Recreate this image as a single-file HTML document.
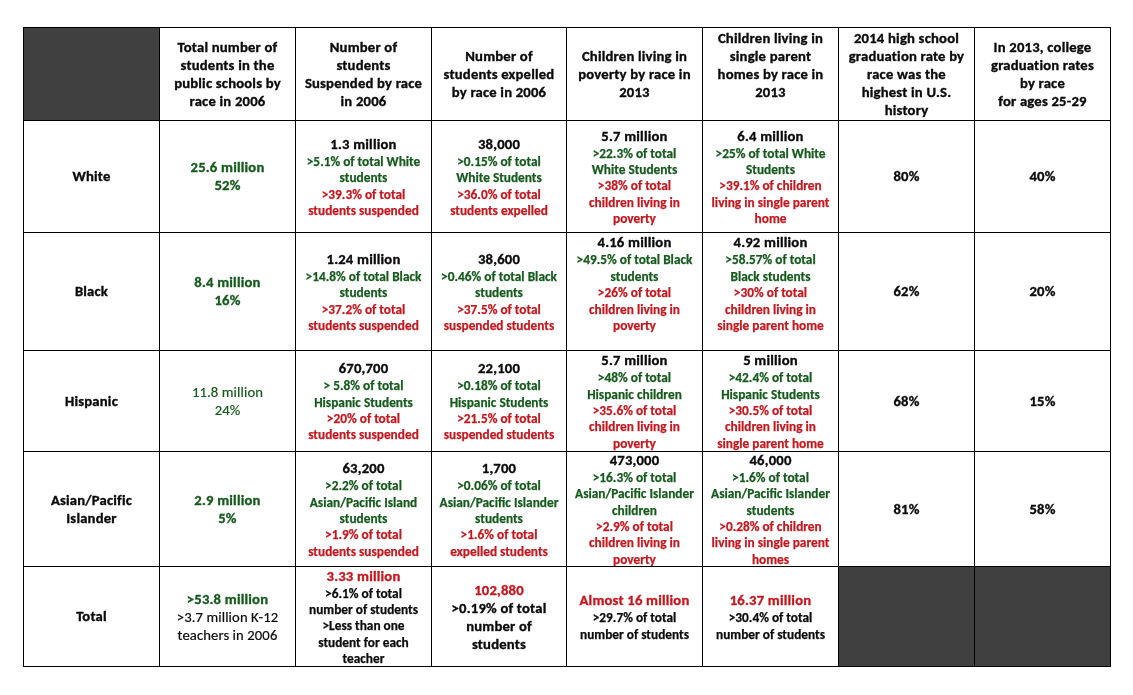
<!DOCTYPE html>
<html><head><meta charset="utf-8"><title>Students by race</title>
<style>
html,body{margin:0;padding:0;background:#fff;}
#t{position:relative;width:1133px;height:695px;overflow:hidden;background:#fff;
 font-family:Carlito,"Liberation Sans",sans-serif;color:#0a0a0a;}
.v{position:absolute;width:1px;background:#000;}
.h{position:absolute;height:1px;background:#000;}
.d{position:absolute;background:#404040;}
.L{position:absolute;-webkit-text-stroke:0.35px currentColor;text-align:center;white-space:nowrap;}
.B{font-weight:bold;font-size:14.667px;letter-spacing:0.2px;line-height:18px;height:18px;}
.R{font-weight:normal;font-size:14.667px;letter-spacing:0.1px;line-height:18px;height:18px;-webkit-text-stroke:0.2px currentColor;}
.S{font-weight:bold;font-size:13.333px;line-height:16px;height:16px;-webkit-text-stroke:0.25px currentColor;}
.g{color:#155b1c;} .r{color:#c4181f;} .k{color:#0a0a0a;}
</style></head><body><div id="t">

<div class="d" style="left:24px;top:28px;width:135px;height:92px"></div>
<div class="d" style="left:839px;top:567px;width:135px;height:99px"></div>
<div class="d" style="left:975px;top:567px;width:135px;height:99px"></div>
<div class="L B k" style="left:160px;top:38px;width:135px">Total number of</div>
<div class="L B k" style="left:160px;top:56px;width:135px">students in the</div>
<div class="L B k" style="left:160px;top:74px;width:135px">public schools by</div>
<div class="L B k" style="left:160px;top:92px;width:135px">race in 2006</div>
<div class="L B k" style="left:296px;top:38px;width:135px">Number of</div>
<div class="L B k" style="left:296px;top:56px;width:135px">students</div>
<div class="L B k" style="left:296px;top:74px;width:135px">Suspended by race</div>
<div class="L B k" style="left:296px;top:92px;width:135px">in 2006</div>
<div class="L B k" style="left:432px;top:47px;width:134px">Number of</div>
<div class="L B k" style="left:432px;top:65px;width:134px">students expelled</div>
<div class="L B k" style="left:432px;top:83px;width:134px">by race in 2006</div>
<div class="L B k" style="left:567px;top:47px;width:135px">Children living in</div>
<div class="L B k" style="left:567px;top:65px;width:135px">poverty by race in</div>
<div class="L B k" style="left:567px;top:83px;width:135px">2013</div>
<div class="L B k" style="left:703px;top:29px;width:135px">Children living in</div>
<div class="L B k" style="left:703px;top:47px;width:135px">single parent</div>
<div class="L B k" style="left:703px;top:65px;width:135px">homes by race in</div>
<div class="L B k" style="left:703px;top:83px;width:135px">2013</div>
<div class="L B k" style="left:839px;top:29px;width:135px">2014 high school</div>
<div class="L B k" style="left:839px;top:47px;width:135px">graduation rate by</div>
<div class="L B k" style="left:839px;top:65px;width:135px">race was the</div>
<div class="L B k" style="left:839px;top:83px;width:135px">highest in U.S.</div>
<div class="L B k" style="left:839px;top:101px;width:135px">history</div>
<div class="L B k" style="left:975px;top:38px;width:135px">In 2013, college</div>
<div class="L B k" style="left:975px;top:56px;width:135px">graduation rates</div>
<div class="L B k" style="left:975px;top:74px;width:135px">by race</div>
<div class="L B k" style="left:975px;top:92px;width:135px">for ages 25-29</div>
<div class="L B k" style="left:24px;top:167px;width:135px">White</div>
<div class="L B g" style="left:160px;top:158px;width:135px">25.6 million</div>
<div class="L B g" style="left:160px;top:176px;width:135px">52%</div>
<div class="L B k" style="left:296px;top:135px;width:135px">1.3 million</div>
<div class="L S g" style="left:296px;top:154px;width:135px">&gt;5.1% of total White</div>
<div class="L S g" style="left:296px;top:170px;width:135px">students</div>
<div class="L S r" style="left:296px;top:187px;width:135px">&gt;39.3% of total</div>
<div class="L S r" style="left:296px;top:203px;width:135px">students suspended</div>
<div class="L B k" style="left:432px;top:135px;width:134px">38,000</div>
<div class="L S g" style="left:432px;top:154px;width:134px">&gt;0.15% of total</div>
<div class="L S g" style="left:432px;top:170px;width:134px">White Students</div>
<div class="L S r" style="left:432px;top:187px;width:134px">&gt;36.0% of total</div>
<div class="L S r" style="left:432px;top:203px;width:134px">students expelled</div>
<div class="L B k" style="left:567px;top:127px;width:135px">5.7 million</div>
<div class="L S g" style="left:567px;top:146px;width:135px">&gt;22.3% of total</div>
<div class="L S g" style="left:567px;top:162px;width:135px">White Students</div>
<div class="L S r" style="left:567px;top:178px;width:135px">&gt;38% of total</div>
<div class="L S r" style="left:567px;top:195px;width:135px">children living in</div>
<div class="L S r" style="left:567px;top:211px;width:135px">poverty</div>
<div class="L B k" style="left:703px;top:127px;width:135px">6.4 million</div>
<div class="L S g" style="left:703px;top:146px;width:135px">&gt;25% of total White</div>
<div class="L S g" style="left:703px;top:162px;width:135px">Students</div>
<div class="L S r" style="left:703px;top:178px;width:135px">&gt;39.1% of children</div>
<div class="L S r" style="left:703px;top:195px;width:135px">living in single parent</div>
<div class="L S r" style="left:703px;top:211px;width:135px">home</div>
<div class="L B k" style="left:839px;top:167px;width:135px">80%</div>
<div class="L B k" style="left:975px;top:167px;width:135px">40%</div>
<div class="L B k" style="left:24px;top:282px;width:135px">Black</div>
<div class="L B g" style="left:160px;top:273px;width:135px">8.4 million</div>
<div class="L B g" style="left:160px;top:291px;width:135px">16%</div>
<div class="L B k" style="left:296px;top:250px;width:135px">1.24 million</div>
<div class="L S g" style="left:296px;top:269px;width:135px">&gt;14.8% of total Black</div>
<div class="L S g" style="left:296px;top:285px;width:135px">students</div>
<div class="L S r" style="left:296px;top:302px;width:135px">&gt;37.2% of total</div>
<div class="L S r" style="left:296px;top:318px;width:135px">students suspended</div>
<div class="L B k" style="left:432px;top:250px;width:134px">38,600</div>
<div class="L S g" style="left:432px;top:269px;width:134px">&gt;0.46% of total Black</div>
<div class="L S g" style="left:432px;top:285px;width:134px">students</div>
<div class="L S r" style="left:432px;top:302px;width:134px">&gt;37.5% of total</div>
<div class="L S r" style="left:432px;top:318px;width:134px">suspended students</div>
<div class="L B k" style="left:567px;top:233px;width:135px">4.16 million</div>
<div class="L S g" style="left:567px;top:252px;width:135px">&gt;49.5% of total Black</div>
<div class="L S g" style="left:567px;top:269px;width:135px">students</div>
<div class="L S r" style="left:567px;top:285px;width:135px">&gt;26% of total</div>
<div class="L S r" style="left:567px;top:302px;width:135px">children living in</div>
<div class="L S r" style="left:567px;top:318px;width:135px">poverty</div>
<div class="L B k" style="left:703px;top:233px;width:135px">4.92 million</div>
<div class="L S g" style="left:703px;top:252px;width:135px">&gt;58.57% of total</div>
<div class="L S g" style="left:703px;top:269px;width:135px">Black students</div>
<div class="L S r" style="left:703px;top:285px;width:135px">&gt;30% of total</div>
<div class="L S r" style="left:703px;top:302px;width:135px">children living in</div>
<div class="L S r" style="left:703px;top:318px;width:135px">single parent home</div>
<div class="L B k" style="left:839px;top:282px;width:135px">62%</div>
<div class="L B k" style="left:975px;top:282px;width:135px">20%</div>
<div class="L B k" style="left:24px;top:392px;width:135px">Hispanic</div>
<div class="L R g" style="left:160px;top:383px;width:135px">11.8 million</div>
<div class="L R g" style="left:160px;top:401px;width:135px">24%</div>
<div class="L B k" style="left:296px;top:359px;width:135px">670,700</div>
<div class="L S g" style="left:296px;top:378px;width:135px">&gt; 5.8% of total</div>
<div class="L S g" style="left:296px;top:395px;width:135px">Hispanic Students</div>
<div class="L S r" style="left:296px;top:411px;width:135px">&gt;20% of total</div>
<div class="L S r" style="left:296px;top:427px;width:135px">students suspended</div>
<div class="L B k" style="left:432px;top:359px;width:134px">22,100</div>
<div class="L S g" style="left:432px;top:378px;width:134px">&gt;0.18% of total</div>
<div class="L S g" style="left:432px;top:395px;width:134px">Hispanic Students</div>
<div class="L S r" style="left:432px;top:411px;width:134px">&gt;21.5% of total</div>
<div class="L S r" style="left:432px;top:427px;width:134px">suspended students</div>
<div class="L B k" style="left:567px;top:351px;width:135px">5.7 million</div>
<div class="L S g" style="left:567px;top:370px;width:135px">&gt;48% of total</div>
<div class="L S g" style="left:567px;top:387px;width:135px">Hispanic children</div>
<div class="L S r" style="left:567px;top:403px;width:135px">&gt;35.6% of total</div>
<div class="L S r" style="left:567px;top:419px;width:135px">children living in</div>
<div class="L S r" style="left:567px;top:436px;width:135px">poverty</div>
<div class="L B k" style="left:703px;top:351px;width:135px">5 million</div>
<div class="L S g" style="left:703px;top:370px;width:135px">&gt;42.4% of total</div>
<div class="L S g" style="left:703px;top:387px;width:135px">Hispanic Students</div>
<div class="L S r" style="left:703px;top:403px;width:135px">&gt;30.5% of total</div>
<div class="L S r" style="left:703px;top:419px;width:135px">children living in</div>
<div class="L S r" style="left:703px;top:436px;width:135px">single parent home</div>
<div class="L B k" style="left:839px;top:392px;width:135px">68%</div>
<div class="L B k" style="left:975px;top:392px;width:135px">15%</div>
<div class="L B k" style="left:24px;top:491px;width:135px">Asian/Pacific</div>
<div class="L B k" style="left:24px;top:509px;width:135px">Islander</div>
<div class="L B g" style="left:160px;top:491px;width:135px">2.9 million</div>
<div class="L B g" style="left:160px;top:509px;width:135px">5%</div>
<div class="L B k" style="left:296px;top:459px;width:135px">63,200</div>
<div class="L S g" style="left:296px;top:478px;width:135px">&gt;2.2% of total</div>
<div class="L S g" style="left:296px;top:495px;width:135px">Asian/Pacific Island</div>
<div class="L S g" style="left:296px;top:511px;width:135px">students</div>
<div class="L S r" style="left:296px;top:527px;width:135px">&gt;1.9% of total</div>
<div class="L S r" style="left:296px;top:544px;width:135px">students suspended</div>
<div class="L B k" style="left:432px;top:459px;width:134px">1,700</div>
<div class="L S g" style="left:432px;top:478px;width:134px">&gt;0.06% of total</div>
<div class="L S g" style="left:432px;top:495px;width:134px">Asian/Pacific Islander</div>
<div class="L S g" style="left:432px;top:511px;width:134px">students</div>
<div class="L S r" style="left:432px;top:527px;width:134px">&gt;1.6% of total</div>
<div class="L S r" style="left:432px;top:544px;width:134px">expelled students</div>
<div class="L B k" style="left:567px;top:451px;width:135px">473,000</div>
<div class="L S g" style="left:567px;top:470px;width:135px">&gt;16.3% of total</div>
<div class="L S g" style="left:567px;top:486px;width:135px">Asian/Pacific Islander</div>
<div class="L S g" style="left:567px;top:503px;width:135px">children</div>
<div class="L S r" style="left:567px;top:519px;width:135px">&gt;2.9% of total</div>
<div class="L S r" style="left:567px;top:535px;width:135px">children living in</div>
<div class="L S r" style="left:567px;top:552px;width:135px">poverty</div>
<div class="L B k" style="left:703px;top:451px;width:135px">46,000</div>
<div class="L S g" style="left:703px;top:470px;width:135px">&gt;1.6% of total</div>
<div class="L S g" style="left:703px;top:486px;width:135px">Asian/Pacific Islander</div>
<div class="L S g" style="left:703px;top:503px;width:135px">students</div>
<div class="L S r" style="left:703px;top:519px;width:135px">&gt;0.28% of children</div>
<div class="L S r" style="left:703px;top:535px;width:135px">living in single parent</div>
<div class="L S r" style="left:703px;top:552px;width:135px">homes</div>
<div class="L B k" style="left:839px;top:500px;width:135px">81%</div>
<div class="L B k" style="left:975px;top:500px;width:135px">58%</div>
<div class="L B k" style="left:24px;top:607px;width:135px">Total</div>
<div class="L B g" style="left:160px;top:590px;width:135px">&gt;53.8 million</div>
<div class="L R k" style="left:160px;top:608px;width:135px">&gt;3.7 million K-12</div>
<div class="L R k" style="left:160px;top:626px;width:135px">teachers in 2006</div>
<div class="L B r" style="left:296px;top:567px;width:135px">3.33 million</div>
<div class="L S k" style="left:296px;top:586px;width:135px">&gt;6.1% of total</div>
<div class="L S k" style="left:296px;top:602px;width:135px">number of students</div>
<div class="L S k" style="left:296px;top:618px;width:135px">&gt;Less than one</div>
<div class="L S k" style="left:296px;top:635px;width:135px">student for each</div>
<div class="L S k" style="left:296px;top:651px;width:135px">teacher</div>
<div class="L B r" style="left:432px;top:581px;width:134px">102,880</div>
<div class="L B k" style="left:432px;top:599px;width:134px">&gt;0.19% of total</div>
<div class="L B k" style="left:432px;top:617px;width:134px">number of</div>
<div class="L B k" style="left:432px;top:635px;width:134px">students</div>
<div class="L B r" style="left:567px;top:591px;width:135px">Almost 16 million</div>
<div class="L S k" style="left:567px;top:610px;width:135px">&gt;29.7% of total</div>
<div class="L S k" style="left:567px;top:627px;width:135px">number of students</div>
<div class="L B r" style="left:703px;top:591px;width:135px">16.37 million</div>
<div class="L S k" style="left:703px;top:610px;width:135px">&gt;30.4% of total</div>
<div class="L S k" style="left:703px;top:627px;width:135px">number of students</div>
<div class="v" style="left:23px;top:27px;height:640px"></div>
<div class="v" style="left:159px;top:27px;height:640px"></div>
<div class="v" style="left:295px;top:27px;height:640px"></div>
<div class="v" style="left:431px;top:27px;height:640px"></div>
<div class="v" style="left:566px;top:27px;height:640px"></div>
<div class="v" style="left:702px;top:27px;height:640px"></div>
<div class="v" style="left:838px;top:27px;height:640px"></div>
<div class="v" style="left:974px;top:27px;height:640px"></div>
<div class="v" style="left:1110px;top:27px;height:640px"></div>
<div class="h" style="left:23px;top:27px;width:1088px"></div>
<div class="h" style="left:23px;top:120px;width:1088px"></div>
<div class="h" style="left:23px;top:232px;width:1088px"></div>
<div class="h" style="left:23px;top:350px;width:1088px"></div>
<div class="h" style="left:23px;top:451px;width:1088px"></div>
<div class="h" style="left:23px;top:566px;width:1088px"></div>
<div class="h" style="left:23px;top:666px;width:1088px"></div>
</div></body></html>
